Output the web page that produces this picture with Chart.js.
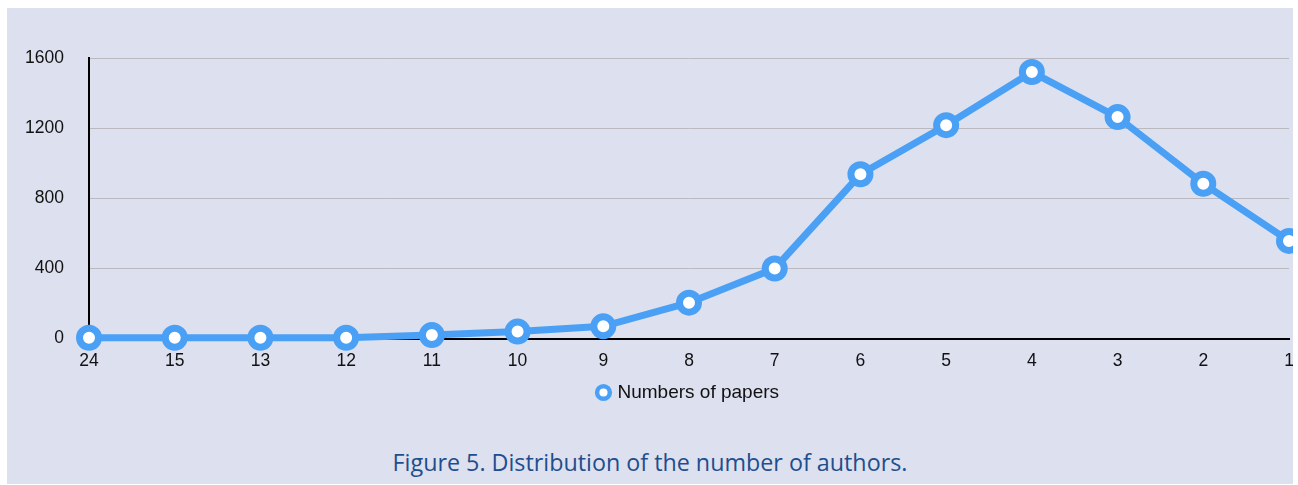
<!DOCTYPE html>
<html>
<head>
<meta charset="utf-8">
<script src="https://cdn.jsdelivr.net/npm/chart.js@4/dist/chart.umd.min.js"></script>
<style>
  html, body { margin: 0; padding: 0; background: #ffffff; }
  #frame {
    position: absolute; left: 7px; top: 8px;
    width: 1286px; height: 476px;
    background: #dde0ef; overflow: hidden;
  }
  #wrap { position: absolute; left: 0; top: 0; width: 1364px; height: 404px; }
  #caption {
    position: absolute; left: 643px; top: 443px;
    transform: translateX(-50%);
    white-space: nowrap;
    font-family: "Open Sans", "Noto Sans", sans-serif;
    font-size: 23.3px; line-height: 23px; color: #1f4e8d;
  }
</style>
</head>
<body>
<div id="frame">
  <div id="wrap"><canvas id="authorsChart"></canvas></div>
  <div id="caption">Figure 5. Distribution of the number of authors.</div>
</div>
<script>
// Data
const authorCounts = ["24", "15", "13", "12", "11", "10", "9", "8", "7", "6", "5", "4", "3", "2", "1"];
const paperCounts = [5, 5, 5, 5, 20, 40, 70, 205, 400, 937, 1217, 1520, 1263, 883, 557];
const yTicks = [0, 400, 800, 1200, 1600];

const lineBlue = "#4aa0f5";
const tickFont = { family: "Liberation Sans, Arial, sans-serif", size: 17.5 };

new Chart(document.getElementById("authorsChart"), {
    type: "line",
    data: {
        labels: authorCounts,
        datasets: [
            {
                label: "Numbers of papers",
                data: paperCounts,
                borderColor: lineBlue,
                borderWidth: 7,
                backgroundColor: "#ffffff",
                pointRadius: 9.5,
                pointBorderWidth: 7,
                pointBackgroundColor: "#ffffff",
                pointBorderColor: lineBlue,
                tension: 0,
                clip: false,
            },
        ],
    },
    options: {
        responsive: true,
        maintainAspectRatio: false,
        animation: false,
        layout: { padding: { top: 50, left: 0, right: 0, bottom: 0 } },
        plugins: {
            legend: {
                position: "bottom",
                labels: {
                    usePointStyle: true,
                    pointStyle: "circle",
                    boxWidth: 9,
                    boxHeight: 9,
                    color: "#111111",
                    padding: 0,
                    font: { family: "Liberation Sans, Arial, sans-serif", size: 19 },
                    generateLabels: () => [{
                        text: "Numbers of papers",
                        fillStyle: "#ffffff",
                        strokeStyle: lineBlue,
                        lineWidth: 4.5,
                        pointStyle: "circle",
                        datasetIndex: 0,
                        fontColor: "#111111",
                    }],
                },
            },
            tooltip: { enabled: false },
        },
        scales: {
            x: {
                offset: false,
                grid: { display: false, drawTicks: false },
                border: { color: "#000000", width: 2 },
                ticks: {
                    color: "#111111",
                    padding: 13,
                    maxRotation: 0,
                    autoSkip: false,
                    font: { ...tickFont, lineHeight: 1.05 },
                },
            },
            y: {
                min: 0,
                max: 1600,
                afterBuildTicks: (scale) => {
                    scale.ticks = yTicks.map((v) => ({ value: v }));
                },
                afterFit: (scale) => { scale.width = 82; },
                grid: {
                    color: "#b9b9bf",
                    lineWidth: 1,
                    drawTicks: false,
                },
                border: { color: "#000000", width: 2 },
                ticks: {
                    color: "#111111",
                    padding: 25,
                    font: tickFont,
                    callback: (value) => String(value),
                },
            },
            yRight: {
                position: "right",
                display: true,
                grid: { display: false, drawTicks: false },
                border: { display: false },
                ticks: { display: false },
                afterFit: (scale) => { scale.width = 82; },
            },
        },
    },
});
</script>
</body>
</html>
